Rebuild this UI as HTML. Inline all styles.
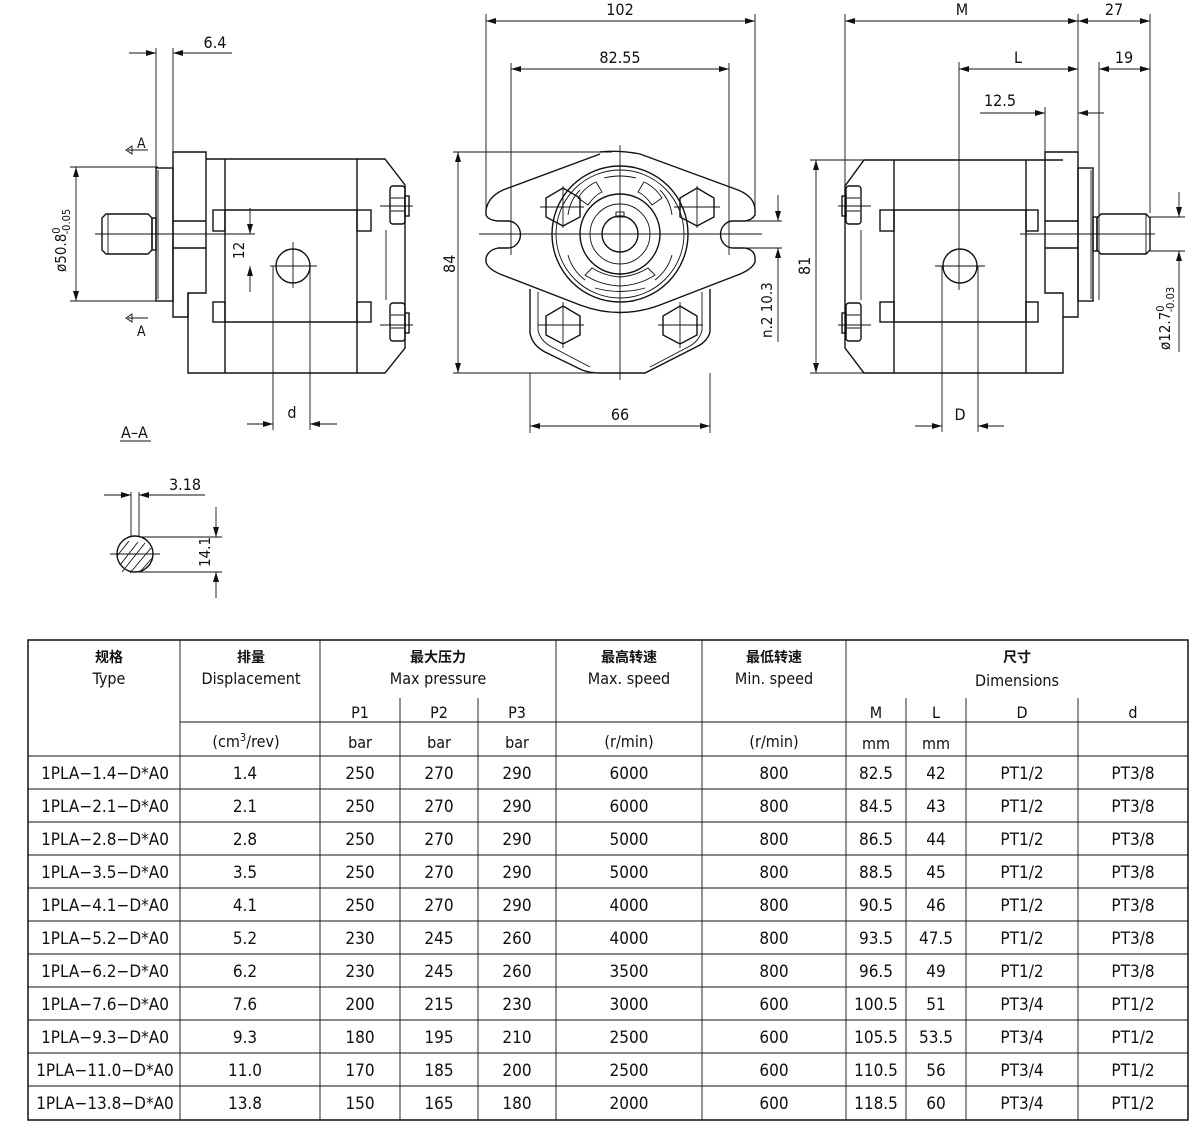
<!DOCTYPE html>
<html><head><meta charset="utf-8"><style>
html,body{margin:0;padding:0;background:#fff;}
svg{display:block;}
text{font-family:"DejaVu Sans Condensed","Liberation Sans Narrow","Liberation Sans","Noto Sans CJK SC",sans-serif;font-stretch:condensed;fill:#111;}
.l{stroke:#111;stroke-width:1.4;fill:none;}
.t{stroke:#111;stroke-width:0.9;fill:none;}
.b{font-family:"Noto Sans CJK SC","WenQuanYi Zen Hei",sans-serif;font-weight:bold;}
</style></head><body>
<svg width="1200" height="1125" viewBox="0 0 1200 1125" xmlns="http://www.w3.org/2000/svg">
<defs>
<marker id="a" viewBox="0 0 10 6" refX="10" refY="3" markerWidth="10" markerHeight="6" orient="auto-start-reverse" markerUnits="userSpaceOnUse"><path d="M0,0L10,3L0,6z" fill="#111"/></marker>
</defs>

<!-- ============ LEFT VIEW ============ -->
<g>
<line class="t" x1="156" y1="48" x2="156" y2="168"/>
<line class="t" x1="173" y1="48" x2="173" y2="152"/>
<line class="t" x1="129" y1="53" x2="156" y2="53" marker-end="url(#a)"/>
<line class="t" x1="232" y1="53" x2="173" y2="53" marker-end="url(#a)"/>
<text x="215" y="48" font-size="16" text-anchor="middle">6.4</text>
<text x="137" y="148" font-size="14">A</text>
<path class="t" d="M128,150 L148,150 M126,150 L132,146 L132,154 Z"/>
<text x="137" y="336" font-size="14">A</text>
<path class="t" d="M128,318 L148,318 M126,318 L132,314 L132,322 Z"/>
<rect class="l" x="156" y="168" width="17" height="133"/>
<line class="t" x1="158" y1="170" x2="158" y2="299"/>
<path class="l" d="M173,152 H206 V293 H188 V317 H173 Z"/>
<line class="l" x1="173" y1="221" x2="206" y2="221"/>
<line class="l" x1="173" y1="248" x2="206" y2="248"/>
<path class="l" d="M206,159 H385 L405,185 V348 L385,373 H188 V293"/>
<line class="l" x1="225" y1="159" x2="225" y2="373"/>
<line class="l" x1="357" y1="159" x2="357" y2="373"/>
<line class="l" x1="225" y1="210" x2="357" y2="210"/>
<line class="l" x1="225" y1="322" x2="357" y2="322"/>
<rect class="l" x="213" y="210" width="12" height="21"/>
<rect class="l" x="357" y="210" width="14" height="21"/>
<rect class="l" x="213" y="302" width="12" height="20"/>
<rect class="l" x="357" y="302" width="14" height="20"/>
<line class="t" x1="386" y1="230" x2="386" y2="300"/>
<rect class="l" x="390" y="186" width="15" height="38" rx="3"/>
<path class="t" d="M391,198 H404 M391,211 H404"/>
<rect class="l" x="405" y="196" width="4" height="20"/>
<rect class="l" x="390" y="303" width="15" height="38" rx="3"/>
<path class="t" d="M391,315 H404 M391,328 H404"/>
<rect class="l" x="405" y="313" width="4" height="20"/>
<line class="t" x1="380" y1="206" x2="413" y2="206"/>
<line class="t" x1="380" y1="325" x2="413" y2="325"/>
<path class="l" d="M106,214 H148 L152,218 V250 L148,254 H106 L102,250 V218 Z"/>
<line class="t" x1="108" y1="214" x2="108" y2="254"/>
<rect class="l" x="152" y="218" width="4" height="32"/>
<line class="t" x1="95" y1="234" x2="255" y2="234"/>
<circle class="l" cx="293" cy="266" r="17"/>
<line class="t" x1="270" y1="266" x2="317" y2="266"/>
<line class="t" x1="293" y1="242" x2="293" y2="288"/>
<line class="t" x1="70" y1="167" x2="158" y2="167"/>
<line class="t" x1="70" y1="301" x2="158" y2="301"/>
<line class="t" x1="76" y1="234" x2="76" y2="167" marker-end="url(#a)"/>
<line class="t" x1="76" y1="234" x2="76" y2="301" marker-end="url(#a)"/>
<text transform="translate(66,272) rotate(-90)" font-size="15">ø50.8<tspan font-size="11" dy="-6">0</tspan><tspan font-size="11" dx="-7" dy="10">-0.05</tspan></text>
<line class="t" x1="250" y1="208" x2="250" y2="234" marker-end="url(#a)"/>
<line class="t" x1="250" y1="292" x2="250" y2="266" marker-end="url(#a)"/>
<line class="t" x1="245" y1="234" x2="255" y2="234"/>
<text transform="translate(244,259) rotate(-90)" font-size="15">12</text>
<line class="t" x1="273" y1="266" x2="273" y2="430"/>
<line class="t" x1="310" y1="266" x2="310" y2="430"/>
<line class="t" x1="247" y1="424" x2="273" y2="424" marker-end="url(#a)"/>
<line class="t" x1="337" y1="424" x2="310" y2="424" marker-end="url(#a)"/>
<text x="292" y="418" font-size="16" text-anchor="middle">d</text>
<text x="121" y="438" font-size="16">A–A</text>
<line class="t" x1="120" y1="441" x2="151" y2="441"/>
<line class="t" x1="131" y1="492" x2="131" y2="537"/>
<line class="t" x1="139" y1="492" x2="139" y2="537"/>
<line class="t" x1="104" y1="495" x2="131" y2="495" marker-end="url(#a)"/>
<line class="t" x1="205" y1="495" x2="139" y2="495" marker-end="url(#a)"/>
<text x="185" y="490" font-size="16" text-anchor="middle">3.18</text>
<circle class="l" cx="135" cy="554" r="18"/>
<path class="t" d="M120,565 L138,542 M122,572 L145,543 M130,573 L151,548 M140,572 L153,557 M117,556 L129,541"/>
<line class="t" x1="110" y1="554" x2="160" y2="554"/>
<line class="t" x1="140" y1="537" x2="222" y2="537"/>
<line class="t" x1="135" y1="572" x2="222" y2="572"/>
<line class="t" x1="216" y1="507" x2="216" y2="537" marker-end="url(#a)"/>
<line class="t" x1="216" y1="598" x2="216" y2="572" marker-end="url(#a)"/>
<text transform="translate(210,567) rotate(-90)" font-size="15">14.1</text>
</g>

<!-- ============ CENTER VIEW ============ -->
<g>
<line class="t" x1="486" y1="14" x2="486" y2="215"/>
<line class="t" x1="755" y1="14" x2="755" y2="215"/>
<line class="t" x1="620" y1="21" x2="486" y2="21" marker-end="url(#a)"/>
<line class="t" x1="620" y1="21" x2="755" y2="21" marker-end="url(#a)"/>
<text x="620" y="15" font-size="16" text-anchor="middle">102</text>
<line class="t" x1="511" y1="63" x2="511" y2="255"/>
<line class="t" x1="729" y1="63" x2="729" y2="255"/>
<line class="t" x1="620" y1="69" x2="511" y2="69" marker-end="url(#a)"/>
<line class="t" x1="620" y1="69" x2="729" y2="69" marker-end="url(#a)"/>
<text x="620" y="63" font-size="16" text-anchor="middle">82.55</text>
<path class="l" d="M600,152 Q620,150 640,154 L738,190 Q755,197 755,210 V215 Q752,220 745,221 H733 A12,13 0 0 0 733,248 H745 Q755,250 755,258 V262 Q752,270 735,276 L660,305 Q620,320 580,305 L505,276 Q488,270 486,262 V258 Q488,250 498,248 H508 A12,13 0 0 0 508,221 H498 Q488,220 486,215 V210 Q488,197 503,190 L600,154"/>
<path class="l" d="M530,289 V333 Q532,345 545,352 L582,370 Q590,373 600,373 H645 L700,345 Q710,338 710,330 V289"/>
<path class="t" d="M538,292 V330 Q540,340 550,346 L590,367 M702,292 V330 Q700,340 690,346 L650,367"/>
<circle class="l" cx="620" cy="234" r="68"/>
<circle class="t" cx="620" cy="234" r="64"/>
<circle class="l" cx="620" cy="234" r="40"/>
<circle class="t" cx="620" cy="234" r="30"/>
<circle class="l" cx="620" cy="234" r="18"/>
<rect class="t" x="616" y="212" width="8" height="5"/>
<path class="t" d="M604,178 Q620,174 636,178 M580,190 Q570,200 568,215 M660,190 Q670,200 672,215 M568,255 Q572,270 585,280 M672,255 Q668,270 655,280 M595,288 Q620,295 645,288"/>
<path class="t" d="M596,182 Q585,187 578,198 L588,205 Q595,195 602,192 Z M644,182 Q655,187 662,198 L652,205 Q645,195 638,192 Z M585,275 Q600,285 620,286 Q640,285 655,275 L648,268 Q635,276 620,277 Q605,276 592,268 Z"/>
<polygon class="l" points="563,188 580,198 580,217 563,226 546,217 546,198"/>
<polygon class="l" points="697,188 714,198 714,217 697,226 680,217 680,198"/>
<polygon class="l" points="563,306 580,316 580,335 563,344 546,335 546,316"/>
<polygon class="l" points="680,306 697,316 697,335 680,344 663,335 663,316"/>
<path class="t" d="M540,207 H584 M563,186 V228 M674,207 H720 M697,186 V228 M538,325 H584 M563,302 V348 M658,325 H703 M680,302 V348"/>
<line class="t" x1="479" y1="234" x2="762" y2="234"/>
<line class="t" x1="620" y1="145" x2="620" y2="380"/>
<line class="t" x1="453" y1="152" x2="612" y2="152"/>
<line class="t" x1="453" y1="373" x2="620" y2="373"/>
<line class="t" x1="458" y1="262" x2="458" y2="152" marker-end="url(#a)"/>
<line class="t" x1="458" y1="262" x2="458" y2="373" marker-end="url(#a)"/>
<text transform="translate(455,273) rotate(-90)" font-size="16">84</text>
<line class="t" x1="745" y1="221" x2="782" y2="221"/>
<line class="t" x1="745" y1="248" x2="782" y2="248"/>
<line class="t" x1="778" y1="195" x2="778" y2="221" marker-end="url(#a)"/>
<line class="t" x1="778" y1="342" x2="778" y2="248" marker-end="url(#a)"/>
<text transform="translate(772,338) rotate(-90)" font-size="15">n.2  10.3</text>
<line class="t" x1="530" y1="373" x2="530" y2="433"/>
<line class="t" x1="710" y1="373" x2="710" y2="433"/>
<line class="t" x1="620" y1="426" x2="530" y2="426" marker-end="url(#a)"/>
<line class="t" x1="620" y1="426" x2="710" y2="426" marker-end="url(#a)"/>
<text x="620" y="420" font-size="16" text-anchor="middle">66</text>
</g>

<!-- ============ RIGHT VIEW ============ -->
<g>
<line class="t" x1="845" y1="14" x2="845" y2="186"/>
<line class="t" x1="1078" y1="14" x2="1078" y2="152"/>
<line class="t" x1="1150" y1="14" x2="1150" y2="213"/>
<line class="t" x1="960" y1="21" x2="845" y2="21" marker-end="url(#a)"/>
<line class="t" x1="960" y1="21" x2="1078" y2="21" marker-end="url(#a)"/>
<text x="962" y="15" font-size="16" text-anchor="middle">M</text>
<line class="t" x1="1110" y1="21" x2="1078" y2="21" marker-end="url(#a)"/>
<line class="t" x1="1110" y1="21" x2="1150" y2="21" marker-end="url(#a)"/>
<text x="1114" y="15" font-size="16" text-anchor="middle">27</text>
<line class="t" x1="1020" y1="69" x2="959" y2="69" marker-end="url(#a)"/>
<line class="t" x1="1020" y1="69" x2="1078" y2="69" marker-end="url(#a)"/>
<text x="1018" y="63" font-size="16" text-anchor="middle">L</text>
<line class="t" x1="1099" y1="62" x2="1099" y2="300"/>
<line class="t" x1="1125" y1="69" x2="1099" y2="69" marker-end="url(#a)"/>
<line class="t" x1="1125" y1="69" x2="1150" y2="69" marker-end="url(#a)"/>
<text x="1124" y="63" font-size="16" text-anchor="middle">19</text>
<line class="t" x1="1045" y1="107" x2="1045" y2="152"/>
<line class="t" x1="980" y1="113" x2="1045" y2="113" marker-end="url(#a)"/>
<line class="t" x1="1104" y1="113" x2="1078" y2="113" marker-end="url(#a)"/>
<text x="1000" y="106" font-size="16" text-anchor="middle">12.5</text>
<path class="l" d="M1063,160 H864 L845,186 V348 L864,373 H1063 V317"/>
<line class="l" x1="894" y1="160" x2="894" y2="373"/>
<line class="l" x1="1026" y1="160" x2="1026" y2="373"/>
<line class="l" x1="894" y1="210" x2="1026" y2="210"/>
<line class="l" x1="894" y1="322" x2="1026" y2="322"/>
<rect class="l" x="880" y="210" width="14" height="21"/>
<rect class="l" x="1026" y="210" width="12" height="21"/>
<rect class="l" x="880" y="302" width="14" height="20"/>
<rect class="l" x="1026" y="302" width="12" height="20"/>
<line class="t" x1="861" y1="230" x2="861" y2="300"/>
<rect class="l" x="846" y="186" width="15" height="38" rx="3"/>
<path class="t" d="M847,198 H860 M847,211 H860"/>
<rect class="l" x="842" y="196" width="4" height="20"/>
<rect class="l" x="846" y="303" width="15" height="38" rx="3"/>
<path class="t" d="M847,315 H860 M847,328 H860"/>
<rect class="l" x="842" y="313" width="4" height="20"/>
<line class="t" x1="838" y1="206" x2="871" y2="206"/>
<line class="t" x1="838" y1="325" x2="871" y2="325"/>
<path class="l" d="M1045,160 V152 H1078 V317 H1063 V293 H1045 Z"/>
<line class="l" x1="1045" y1="221" x2="1078" y2="221"/>
<line class="l" x1="1045" y1="248" x2="1078" y2="248"/>
<rect class="l" x="1078" y="168" width="15" height="133"/>
<line class="t" x1="1091" y1="170" x2="1091" y2="299"/>
<rect class="l" x="1093" y="217" width="4" height="34"/>
<path class="l" d="M1097,218 L1101,214 H1146 L1150,218 V250 L1146,254 H1101 L1097,250 Z"/>
<line class="t" x1="1146" y1="214" x2="1146" y2="254"/>
<line class="t" x1="1020" y1="234" x2="1155" y2="234"/>
<circle class="l" cx="960" cy="266" r="17"/>
<line class="t" x1="935" y1="266" x2="985" y2="266"/>
<line class="t" x1="959" y1="62" x2="959" y2="290"/>
<line class="t" x1="942" y1="266" x2="942" y2="432"/>
<line class="t" x1="978" y1="266" x2="978" y2="432"/>
<line class="t" x1="915" y1="426" x2="942" y2="426" marker-end="url(#a)"/>
<line class="t" x1="1004" y1="426" x2="978" y2="426" marker-end="url(#a)"/>
<text x="960" y="420" font-size="16" text-anchor="middle">D</text>
<line class="t" x1="810" y1="160" x2="864" y2="160"/>
<line class="t" x1="810" y1="373" x2="864" y2="373"/>
<line class="t" x1="816" y1="266" x2="816" y2="160" marker-end="url(#a)"/>
<line class="t" x1="816" y1="266" x2="816" y2="373" marker-end="url(#a)"/>
<text transform="translate(810,275) rotate(-90)" font-size="16">81</text>
<line class="t" x1="1150" y1="217" x2="1185" y2="217"/>
<line class="t" x1="1150" y1="251" x2="1185" y2="251"/>
<line class="t" x1="1179" y1="192" x2="1179" y2="217" marker-end="url(#a)"/>
<line class="t" x1="1179" y1="352" x2="1179" y2="251" marker-end="url(#a)"/>
<text transform="translate(1170,350) rotate(-90)" font-size="15">ø12.7<tspan font-size="11" dy="-6">0</tspan><tspan font-size="11" dx="-7" dy="10">-0.03</tspan></text>
</g>

<!-- ============ TABLE ============ -->
<g>
<rect x="28" y="640" width="1160" height="480" fill="none" stroke="#111" stroke-width="1.5"/>
<path class="t" d="M180,640V1120 M320,640V1120 M556,640V1120 M702,640V1120 M846,640V1120
M400,698V1120 M478,698V1120 M906,698V1120 M966,698V1120 M1078,698V1120
M180,722H1188 M28,756H1188 M28,789H1188 M28,822H1188 M28,855H1188 M28,888H1188 M28,921H1188 M28,954H1188 M28,987H1188 M28,1020H1188 M28,1053H1188 M28,1086H1188"/>
<g font-size="16" text-anchor="middle">
<text class="b" x="109" y="662" font-size="14">规格</text><text x="109" y="684">Type</text>
<text class="b" x="251" y="662" font-size="14">排量</text><text x="251" y="684">Displacement</text>
<text class="b" x="438" y="662" font-size="14">最大压力</text><text x="438" y="684">Max  pressure</text>
<text class="b" x="629" y="662" font-size="14">最高转速</text><text x="629" y="684">Max.  speed</text>
<text class="b" x="774" y="662" font-size="14">最低转速</text><text x="774" y="684">Min.  speed</text>
<text class="b" x="1017" y="662" font-size="14">尺寸</text><text x="1017" y="686">Dimensions</text>
<text x="360" y="718">P1</text><text x="439" y="718">P2</text><text x="517" y="718">P3</text>
<text x="876" y="718">M</text><text x="936" y="718">L</text><text x="1022" y="718">D</text><text x="1133" y="718">d</text>
<text x="246" y="747">(cm<tspan font-size="11" dy="-6">3</tspan><tspan dy="6">/rev)</tspan></text>
<text x="360" y="748">bar</text><text x="439" y="748">bar</text><text x="517" y="748">bar</text>
<text x="629" y="747">(r/min)</text><text x="774" y="747">(r/min)</text>
<text x="876" y="749">mm</text><text x="936" y="749">mm</text>
</g>
<g font-size="17" text-anchor="middle">
<text y="779"><tspan x="105">1PLA−1.4−D*A0</tspan><tspan x="245">1.4</tspan><tspan x="360">250</tspan><tspan x="439">270</tspan><tspan x="517">290</tspan><tspan x="629">6000</tspan><tspan x="774">800</tspan><tspan x="876">82.5</tspan><tspan x="936">42</tspan><tspan x="1022">PT1/2</tspan><tspan x="1133">PT3/8</tspan></text>
<text y="812"><tspan x="105">1PLA−2.1−D*A0</tspan><tspan x="245">2.1</tspan><tspan x="360">250</tspan><tspan x="439">270</tspan><tspan x="517">290</tspan><tspan x="629">6000</tspan><tspan x="774">800</tspan><tspan x="876">84.5</tspan><tspan x="936">43</tspan><tspan x="1022">PT1/2</tspan><tspan x="1133">PT3/8</tspan></text>
<text y="845"><tspan x="105">1PLA−2.8−D*A0</tspan><tspan x="245">2.8</tspan><tspan x="360">250</tspan><tspan x="439">270</tspan><tspan x="517">290</tspan><tspan x="629">5000</tspan><tspan x="774">800</tspan><tspan x="876">86.5</tspan><tspan x="936">44</tspan><tspan x="1022">PT1/2</tspan><tspan x="1133">PT3/8</tspan></text>
<text y="878"><tspan x="105">1PLA−3.5−D*A0</tspan><tspan x="245">3.5</tspan><tspan x="360">250</tspan><tspan x="439">270</tspan><tspan x="517">290</tspan><tspan x="629">5000</tspan><tspan x="774">800</tspan><tspan x="876">88.5</tspan><tspan x="936">45</tspan><tspan x="1022">PT1/2</tspan><tspan x="1133">PT3/8</tspan></text>
<text y="911"><tspan x="105">1PLA−4.1−D*A0</tspan><tspan x="245">4.1</tspan><tspan x="360">250</tspan><tspan x="439">270</tspan><tspan x="517">290</tspan><tspan x="629">4000</tspan><tspan x="774">800</tspan><tspan x="876">90.5</tspan><tspan x="936">46</tspan><tspan x="1022">PT1/2</tspan><tspan x="1133">PT3/8</tspan></text>
<text y="944"><tspan x="105">1PLA−5.2−D*A0</tspan><tspan x="245">5.2</tspan><tspan x="360">230</tspan><tspan x="439">245</tspan><tspan x="517">260</tspan><tspan x="629">4000</tspan><tspan x="774">800</tspan><tspan x="876">93.5</tspan><tspan x="936">47.5</tspan><tspan x="1022">PT1/2</tspan><tspan x="1133">PT3/8</tspan></text>
<text y="977"><tspan x="105">1PLA−6.2−D*A0</tspan><tspan x="245">6.2</tspan><tspan x="360">230</tspan><tspan x="439">245</tspan><tspan x="517">260</tspan><tspan x="629">3500</tspan><tspan x="774">800</tspan><tspan x="876">96.5</tspan><tspan x="936">49</tspan><tspan x="1022">PT1/2</tspan><tspan x="1133">PT3/8</tspan></text>
<text y="1010"><tspan x="105">1PLA−7.6−D*A0</tspan><tspan x="245">7.6</tspan><tspan x="360">200</tspan><tspan x="439">215</tspan><tspan x="517">230</tspan><tspan x="629">3000</tspan><tspan x="774">600</tspan><tspan x="876">100.5</tspan><tspan x="936">51</tspan><tspan x="1022">PT3/4</tspan><tspan x="1133">PT1/2</tspan></text>
<text y="1043"><tspan x="105">1PLA−9.3−D*A0</tspan><tspan x="245">9.3</tspan><tspan x="360">180</tspan><tspan x="439">195</tspan><tspan x="517">210</tspan><tspan x="629">2500</tspan><tspan x="774">600</tspan><tspan x="876">105.5</tspan><tspan x="936">53.5</tspan><tspan x="1022">PT3/4</tspan><tspan x="1133">PT1/2</tspan></text>
<text y="1076"><tspan x="105">1PLA−11.0−D*A0</tspan><tspan x="245">11.0</tspan><tspan x="360">170</tspan><tspan x="439">185</tspan><tspan x="517">200</tspan><tspan x="629">2500</tspan><tspan x="774">600</tspan><tspan x="876">110.5</tspan><tspan x="936">56</tspan><tspan x="1022">PT3/4</tspan><tspan x="1133">PT1/2</tspan></text>
<text y="1109"><tspan x="105">1PLA−13.8−D*A0</tspan><tspan x="245">13.8</tspan><tspan x="360">150</tspan><tspan x="439">165</tspan><tspan x="517">180</tspan><tspan x="629">2000</tspan><tspan x="774">600</tspan><tspan x="876">118.5</tspan><tspan x="936">60</tspan><tspan x="1022">PT3/4</tspan><tspan x="1133">PT1/2</tspan></text>
</g>
</g>
</svg>
</body></html>
